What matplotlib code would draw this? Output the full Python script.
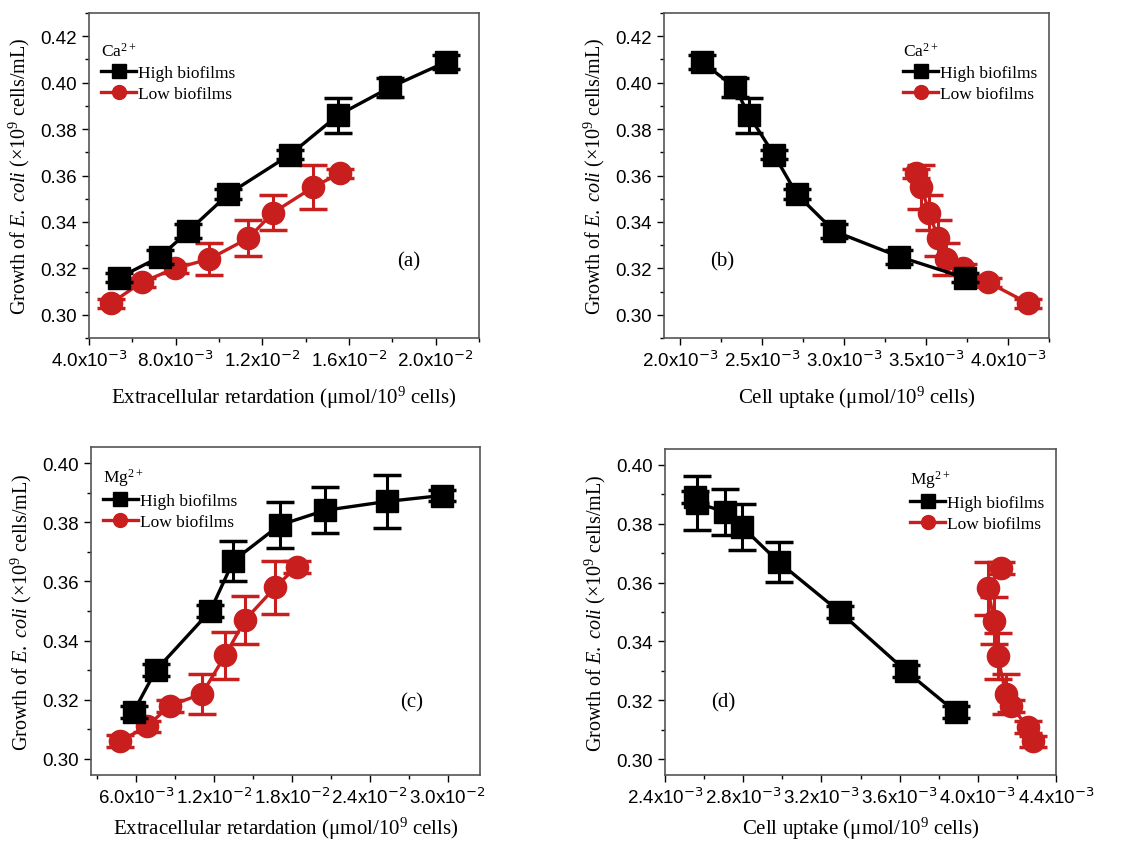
import math

import matplotlib.pyplot as plt
from matplotlib.lines import Line2D
from matplotlib.ticker import FuncFormatter, MultipleLocator, AutoMinorLocator

plt.rcParams["font.family"] = ["Liberation Sans", "DejaVu Sans"]
plt.rcParams["mathtext.fontset"] = "custom"
plt.rcParams["mathtext.rm"] = "Liberation Serif"
plt.rcParams["mathtext.it"] = "Liberation Serif:italic"
plt.rcParams["mathtext.bf"] = "Liberation Serif:bold"

# Ca2+ growth (x10^9 cells/mL)
ca_high_growth = [0.316, 0.325, 0.336, 0.352, 0.369, 0.386, 0.398, 0.409]
ca_high_err = [0.002, 0.003, 0.003, 0.002, 0.002, 0.0075, 0.004, 0.003]
ca_low_growth = [0.305, 0.314, 0.320, 0.324, 0.333, 0.344, 0.355, 0.361]
ca_low_err = [0.002, 0.002, 0.002, 0.0068, 0.0077, 0.0075, 0.0094, 0.002]

# (a) extracellular retardation, Ca
ca_high_extra = [5.38e-3, 7.28e-3, 8.58e-3, 10.43e-3, 13.28e-3, 15.5e-3, 17.9e-3, 20.5e-3]
ca_low_extra = [5.02e-3, 6.43e-3, 7.97e-3, 9.55e-3, 11.35e-3, 12.5e-3, 14.35e-3, 15.58e-3]
# (b) cell uptake, Ca
ca_high_uptake = [3.735e-3, 3.337e-3, 2.939e-3, 2.710e-3, 2.571e-3, 2.418e-3, 2.333e-3, 2.129e-3]
ca_low_uptake = [4.122e-3, 3.878e-3, 3.724e-3, 3.622e-3, 3.571e-3, 3.520e-3, 3.469e-3, 3.439e-3]

# Mg2+ growth
mg_high_growth = [0.316, 0.330, 0.350, 0.367, 0.379, 0.384, 0.387, 0.389]
mg_high_err = [0.002, 0.002, 0.002, 0.0068, 0.0078, 0.0078, 0.0091, 0.002]
mg_low_growth = [0.306, 0.311, 0.318, 0.322, 0.335, 0.347, 0.358, 0.365]
mg_low_err = [0.002, 0.002, 0.002, 0.0068, 0.0079, 0.008, 0.0089, 0.002]

# (c) extracellular retardation, Mg
mg_high_extra = [5.79e-3, 7.51e-3, 11.70e-3, 13.49e-3, 17.04e-3, 20.55e-3, 25.30e-3, 29.53e-3]
mg_low_extra = [4.72e-3, 6.82e-3, 8.57e-3, 11.06e-3, 12.85e-3, 14.39e-3, 16.70e-3, 18.37e-3]
# (d) cell uptake, Mg
mg_high_uptake = [3.887e-3, 3.631e-3, 3.294e-3, 2.981e-3, 2.793e-3, 2.708e-3, 2.565e-3, 2.555e-3]
mg_low_uptake = [4.280e-3, 4.255e-3, 4.169e-3, 4.144e-3, 4.101e-3, 4.084e-3, 4.050e-3, 4.118e-3]

RED = "#c81e1e"
SERIF = "Liberation Serif"


def sci_fmt(v, pos):
    if abs(v) < 1e-9:
        return ""
    exp = math.floor(math.log10(abs(v)))
    m = v / 10 ** exp
    return f"{m:.1f}x10$^{{\\mathsf{{{exp}}}}}$"


def draw_panel(ax, hx, hy, he, lx, ly, le, ion, tag, xlim, ylim, xstep,
               xlabel, tag_pos, legend_loc, legend_anchor, xpad):
    ax.errorbar(hx, hy, yerr=he, color="black", marker="s", ms=16, lw=2.4,
                capsize=10, capthick=2.5, elinewidth=2.2, zorder=3)
    ax.errorbar(lx, ly, yerr=le, color=RED, marker="o", ms=16, lw=2.4,
                capsize=10, capthick=2.5, elinewidth=2.2, zorder=2)
    ax.set_xlim(*xlim)
    ax.set_ylim(*ylim)
    ax.xaxis.set_major_locator(MultipleLocator(xstep))
    ax.xaxis.set_minor_locator(AutoMinorLocator(2))
    ax.yaxis.set_major_locator(MultipleLocator(0.02))
    ax.yaxis.set_minor_locator(AutoMinorLocator(2))
    ax.xaxis.set_major_formatter(FuncFormatter(sci_fmt))
    ax.yaxis.set_major_formatter(FuncFormatter(lambda v, p: f"{v:.2f}"))
    ax.tick_params(which="both", direction="out", labelsize=13.5, width=1)
    ax.tick_params(which="major", length=5)
    ax.tick_params(which="minor", length=3)
    for s in ax.spines.values():
        s.set_color("#555555")
        s.set_linewidth(1.2)
    ax.set_xlabel(xlabel, family=SERIF, fontsize=15, labelpad=xpad)
    ax.set_ylabel("Growth of $\\it{E.\\ coli}$ ($\\times$10$^9$ cells/mL)",
                  family=SERIF, fontsize=14.5, labelpad=6)
    ax.text(tag_pos[0], tag_pos[1], tag, transform=ax.transAxes, family=SERIF,
            fontsize=15, ha="center", va="center")
    handles = [
        Line2D([], [], color="black", marker="s", ms=10, lw=2.4),
        Line2D([], [], color=RED, marker="o", ms=10, lw=2.4),
    ]
    ax.legend(handles, ["High biofilms", "Low biofilms"], loc=legend_loc,
              bbox_to_anchor=legend_anchor, frameon=False, title=ion,
              prop={"family": SERIF, "size": 12.5},
              title_fontproperties={"family": SERIF, "size": 12.5},
              handlelength=2.0, handletextpad=0.1, labelspacing=0.3,
              alignment="left", borderaxespad=0.3)


fig = plt.figure(figsize=(11.47, 8.45), dpi=100)
ax_a = fig.add_axes([0.0776, 0.5988, 0.34, 0.3846])
ax_b = fig.add_axes([0.5789, 0.5988, 0.3357, 0.3846])
ax_c = fig.add_axes([0.0793, 0.0817, 0.3392, 0.3881])
ax_d = fig.add_axes([0.5798, 0.0817, 0.3409, 0.3858])

draw_panel(ax_a, ca_high_extra, ca_high_growth, ca_high_err, ca_low_extra, ca_low_growth, ca_low_err,
           "Ca$^{2+}$", "(a)", (0.004, 0.022), (0.29, 0.43), 0.004,
           "Extracellular retardation (\u03bcmol/10$^9$ cells)", (0.82, 0.237),
           "upper left", (0.0, 0.95), 10)
draw_panel(ax_b, ca_high_uptake, ca_high_growth, ca_high_err, ca_low_uptake, ca_low_growth, ca_low_err,
           "Ca$^{2+}$", "(b)", (0.0019, 0.00425), (0.29, 0.43), 0.0005,
           "Cell uptake (\u03bcmol/10$^9$ cells)", (0.15, 0.237),
           "upper right", (1.0, 0.95), 10)
draw_panel(ax_c, mg_high_extra, mg_high_growth, mg_high_err, mg_low_extra, mg_low_growth, mg_low_err,
           "Mg$^{2+}$", "(c)", (0.0025, 0.0325), (0.2946, 0.4054), 0.006,
           "Extracellular retardation (\u03bcmol/10$^9$ cells)", (0.823, 0.223),
           "upper left", (0.0, 0.98), 6)
draw_panel(ax_d, mg_high_uptake, mg_high_growth, mg_high_err, mg_low_uptake, mg_low_growth, mg_low_err,
           "Mg$^{2+}$", "(d)", (0.0024, 0.0044), (0.2946, 0.4054), 0.0004,
           "Cell uptake (\u03bcmol/10$^9$ cells)", (0.148, 0.223),
           "upper right", (1.0, 0.98), 6)

plt.savefig("out.png", dpi=100)
